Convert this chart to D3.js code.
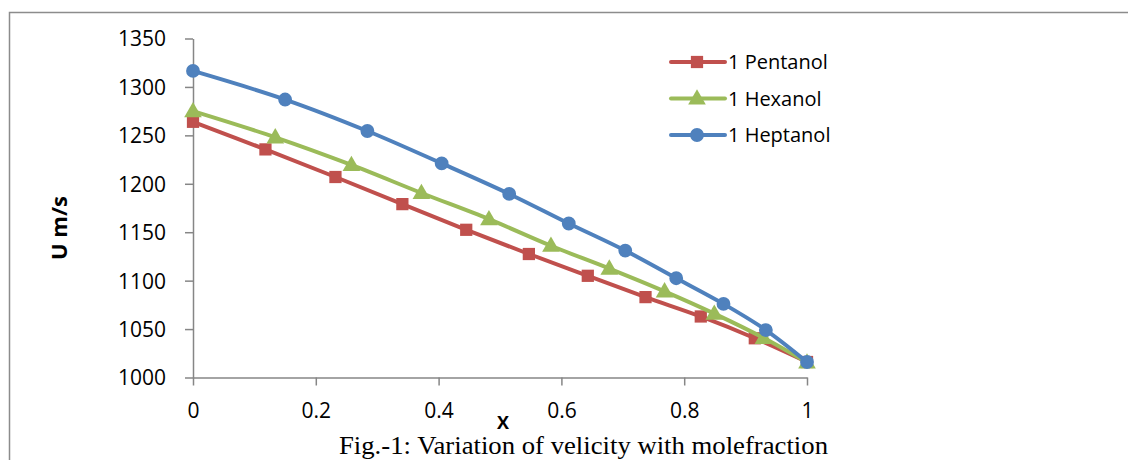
<!DOCTYPE html>
<html><head><meta charset="utf-8">
<script src="https://cdn.jsdelivr.net/npm/d3@7"></script>
<style>body{margin:0;background:#fff}svg{display:block}</style>
</head><body>
<svg id="c" width="1128" height="460"></svg>
<script>
const seriesNames = ["1 Pentanol", "1 Hexanol", "1 Heptanol"];
const pentanolX = [0, 0.118, 0.232, 0.341, 0.445, 0.547, 0.643, 0.737, 0.827, 0.915, 1];
const pentanolU = [1264, 1235.5, 1207, 1179, 1152.5, 1127.5, 1105, 1083, 1063, 1040.5, 1016];
const hexanolX = [0, 0.134, 0.258, 0.372, 0.482, 0.583, 0.678, 0.768, 0.849, 0.929, 1];
const hexanolU = [1275, 1248, 1219.5, 1190.5, 1163.5, 1136, 1112.5, 1089, 1066, 1041, 1015.5];
const heptanolX = [0, 0.150, 0.284, 0.405, 0.515, 0.612, 0.704, 0.787, 0.864, 0.933, 1];
const heptanolU = [1316.5, 1287, 1254.5, 1221, 1189.5, 1159, 1131, 1102.5, 1076, 1049, 1016];
const xTicks = [0, 0.2, 0.4, 0.6, 0.8, 1];
const yTicks = [1000, 1050, 1100, 1150, 1200, 1250, 1300, 1350];
const colors = ["#C0504D", "#9BBB59", "#4F81BD"];
const symbols = [d3.symbolSquare, d3.symbolTriangle, d3.symbolCircle];
const symSizes = [150, 135, 150];

const svg = d3.select("#c");
const font = "'Open Sans', Lato, sans-serif";

// outer border
svg.append("rect").attr("x", 9.5).attr("y", 12.5).attr("width", 1130).attr("height", 460)
  .attr("fill", "none").attr("stroke", "#8c8c8c").attr("stroke-width", 1.5);

const x = d3.scaleLinear().domain([0, 1]).range([193, 807]);
const y = d3.scaleLinear().domain([1000, 1350]).range([377.5, 38.5]);

const xAxis = svg.append("g").attr("transform", "translate(0,377.5)")
  .call(d3.axisBottom(x).tickValues(xTicks).tickFormat(d3.format("")).tickSize(8).tickSizeOuter(0));
const yAxis = svg.append("g").attr("transform", "translate(193,0)")
  .call(d3.axisLeft(y).tickValues(yTicks).tickFormat(d3.format("d")).tickSize(8).tickSizeOuter(0));
[xAxis, yAxis].forEach(g => {
  g.select(".domain").attr("stroke", "#868686").attr("stroke-width", 1.5);
  g.selectAll(".tick line").attr("stroke", "#868686").attr("stroke-width", 1.5);
  g.selectAll("text").attr("fill", "#000").style("font-family", font).style("font-size", "21px");
});
xAxis.selectAll("text").attr("y", 33).attr("dy", "0.35em");
yAxis.selectAll("text").attr("x", -27).attr("dy", "0.35em");

const data = [
  pentanolX.map((v, i) => [v, pentanolU[i]]),
  hexanolX.map((v, i) => [v, hexanolU[i]]),
  heptanolX.map((v, i) => [v, heptanolU[i]])
];
const line = d3.line().x(d => x(d[0])).y(d => y(d[1])).curve(d3.curveCatmullRom.alpha(0.5));

data.forEach((s, k) => {
  svg.append("path").datum(s).attr("d", line).attr("fill", "none")
    .attr("stroke", colors[k]).attr("stroke-width", 4).attr("stroke-linejoin", "round");
  svg.append("g").selectAll("path").data(s).join("path")
    .attr("transform", d => `translate(${x(d[0])},${y(d[1]) + (k === 1 ? 1 : 0)})`)
    .attr("d", d3.symbol().type(symbols[k]).size(symSizes[k]))
    .attr("fill", colors[k]);
});

// legend
const leg = svg.append("g");
seriesNames.forEach((n, k) => {
  const ly = 62 + k * 36.5;
  leg.append("line").attr("x1", 671).attr("x2", 725).attr("y1", ly).attr("y2", ly)
    .attr("stroke", colors[k]).attr("stroke-width", 4).attr("stroke-linecap", "round");
  leg.append("path").attr("transform", `translate(697,${ly + (k === 1 ? 1 : 0)})`)
    .attr("d", d3.symbol().type(symbols[k]).size(symSizes[k])).attr("fill", colors[k]);
  leg.append("text").attr("x", 728).attr("y", ly).attr("dy", "0.36em")
    .style("font-family", font).style("font-size", "20px").text(n);
});

// axis titles
svg.append("text").attr("transform", "translate(67,228) rotate(-90)").attr("text-anchor", "middle")
  .style("font-family", font).style("font-size", "22px").style("font-weight", "bold").text("U m/s");
svg.append("text").attr("x", 503).attr("y", 429).attr("text-anchor", "middle")
  .style("font-family", font).style("font-size", "18px").style("font-weight", "bold").text("X");

svg.append("text").attr("x", 339).attr("y", 454)
  .attr("textLength", 489).attr("lengthAdjust", "spacingAndGlyphs")
  .style("font-family", "'Liberation Serif', 'Times New Roman', serif").style("font-size", "25px")
  .text("Fig.-1: Variation of velicity with molefraction");
</script>
</body></html>
